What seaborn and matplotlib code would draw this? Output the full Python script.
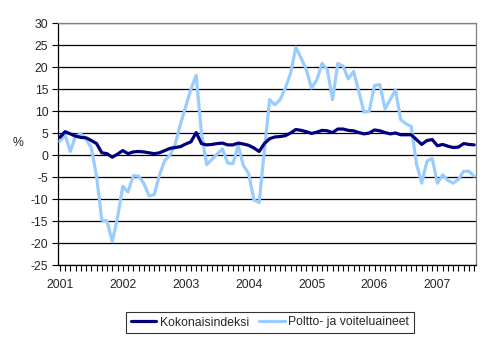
import numpy as np
import pandas as pd
import matplotlib
matplotlib.use("Agg")
import matplotlib.pyplot as plt
import seaborn as sns

# Monthly year-on-year change (%), January 2001 - August 2007
years = ["2001", "2002", "2003", "2004", "2005", "2006", "2007"]
kokonaisindeksi = [
    4.0, 5.3, 4.8, 4.3, 4.0, 3.9, 3.3, 2.6, 0.5, 0.3, -0.5, 0.2,
    1.0, 0.3, 0.7, 0.8, 0.7, 0.5, 0.3, 0.5, 1.0, 1.5, 1.7, 1.9,
    2.5, 3.0, 5.1, 2.6, 2.3, 2.4, 2.6, 2.7, 2.3, 2.3, 2.7, 2.5,
    2.2, 1.6, 0.8, 2.6, 3.7, 4.1, 4.2, 4.4, 5.0, 5.8, 5.6, 5.3,
    4.9, 5.2, 5.6, 5.5, 5.1, 5.9, 5.9, 5.6, 5.5, 5.1, 4.8, 5.0,
    5.7, 5.5, 5.1, 4.8, 5.0, 4.6, 4.6, 4.6, 3.5, 2.4, 3.3, 3.5,
    2.1, 2.4, 2.0, 1.7, 1.8, 2.6, 2.4, 2.3,
]
poltto_ja_voiteluaineet = [
    3.1, 4.6, 0.8, 4.3, 4.8, 3.6, 1.6, -4.8, -14.8, -15.0, -19.7, -14.2,
    -7.1, -8.4, -4.7, -4.8, -6.4, -9.3, -9.0, -4.5, -1.3, 0.0, 2.5, 7.0,
    11.0, 15.0, 18.1, 5.0, -2.2, -1.0, 0.2, 1.4, -1.8, -2.0, 2.2, -2.4,
    -4.2, -10.2, -10.8, 1.0, 12.6, 11.4, 12.6, 15.2, 18.6, 24.5, 22.0, 19.4,
    15.2, 17.1, 20.8, 19.4, 12.6, 20.8, 20.2, 17.3, 19.0, 14.5, 9.7, 10.0,
    15.8, 16.0, 10.5, 12.6, 14.8, 8.0, 7.1, 6.5, -2.0, -6.4, -1.4, -0.8,
    -6.4, -4.5, -5.8, -6.4, -5.5, -3.7, -3.7, -4.8,
]
series_names = ["Kokonaisindeksi", "Poltto- ja voiteluaineet"]
y_ticks = [30, 25, 20, 15, 10, 5, 0, -5, -10, -15, -20, -25]

n = len(kokonaisindeksi)
month = np.arange(n)
df = pd.DataFrame({
    "kk": np.concatenate([month, month]),
    "muutos": kokonaisindeksi + poltto_ja_voiteluaineet,
    "sarja": [series_names[0]] * n + [series_names[1]] * n,
})

sns.set_style("white")
plt.rcParams["font.family"] = ["Liberation Sans", "DejaVu Sans"]
plt.rcParams["axes.unicode_minus"] = False
fs = 8.8

fig = plt.figure(figsize=(4.95, 3.42), dpi=100)
ax = fig.add_axes([58 / 495, 1 - 265 / 342, (476 - 58) / 495, (265 - 23) / 342])

palette = {series_names[0]: "#000080", series_names[1]: "#99CCFF"}
sns.lineplot(data=df, x="kk", y="muutos", hue="sarja", palette=palette,
             linewidth=2.3, ax=ax, legend=False, zorder=3)
# Dark line drawn on top of the light one
ax.lines[0].set_zorder(4)

ax.set_xlim(-0.35, n - 1 + 0.35)
ax.set_ylim(-25, 30)
ax.set_yticks(y_ticks)
ax.set_yticklabels([str(v) for v in y_ticks], fontsize=fs)
ax.yaxis.grid(True, color="black", linewidth=0.9)
ax.set_axisbelow(True)

ax.set_xticks([12 * k for k in range(len(years))])
ax.set_xticklabels(years, fontsize=fs)
ax.set_xticks(month, minor=True)
ax.tick_params(axis="x", which="both", direction="out", length=4, width=0.8,
               color="black", pad=6, bottom=True)
ax.tick_params(axis="y", direction="out", length=4, width=0.8, color="black",
               pad=3, left=True)

ax.set_xlabel("")
ax.set_ylabel("")
for side in ["left", "bottom"]:
    ax.spines[side].set_color("black")
    ax.spines[side].set_linewidth(0.9)
for side in ["top", "right"]:
    ax.spines[side].set_visible(True)
    ax.spines[side].set_color("#808080")
    ax.spines[side].set_linewidth(0.9)

fig.text(18 / 495, 1 - 143 / 342, "%", fontsize=fs, ha="center", va="center")

handles = [plt.Line2D([], [], color=palette[s], linewidth=2.3) for s in series_names]
leg = fig.legend(handles, series_names, loc="center", ncol=2,
                 bbox_to_anchor=(270 / 495, 1 - 322.5 / 342), fontsize=fs,
                 frameon=True, fancybox=False, handlelength=2.1,
                 handletextpad=0.3, columnspacing=0.8, borderpad=0.35)
leg.get_frame().set_edgecolor("black")
leg.get_frame().set_linewidth(0.8)

fig.savefig("out.png", dpi=100)
